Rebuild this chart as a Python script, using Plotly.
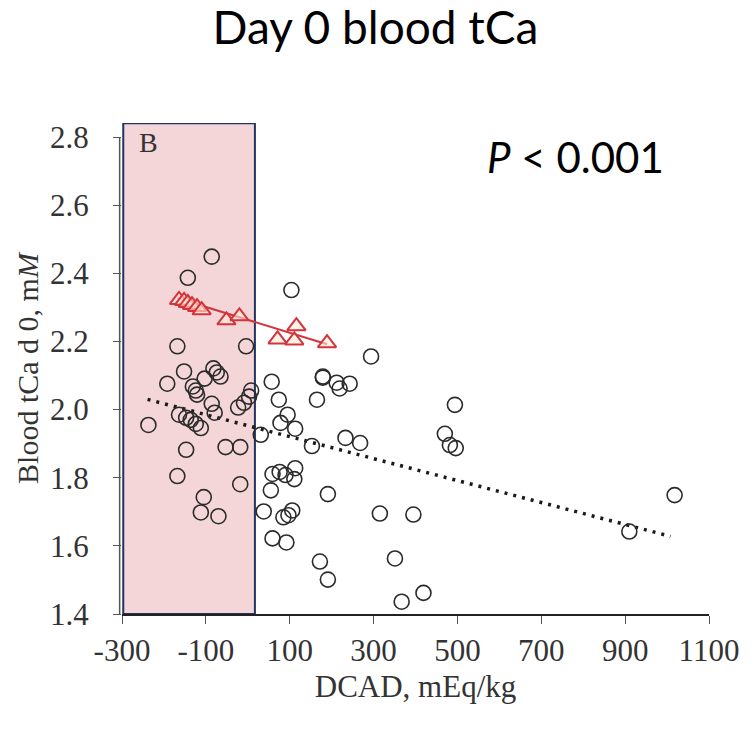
import plotly.graph_objects as go

# Circles: all cows (DCAD mEq/kg, blood tCa d0 mM)
circ_x = [-86, -143, 104, -168, -4, -152, -192, -82, -74, -65, -103, -131, -124, -121, -86,
          -237, -164, -147, -136, -124, -112, -79, -23, -9, 3, 8, -147, -53, -18, -168,
          -18, -105, -112, -70, 57, 74, 31, 78, 95, 113, 59, 76, 90, 113, 111,
          55, 38, 85, 97, 106, 59, 92, 179, 179, 212, 219, 243, 165, 294, 494,
          153, 233, 268, 470, 482, 496, 191, 172, 191, 315, 395, 351, 419, 367,
          1018, 910]
circ_y = [2.449, 2.387, 2.351, 2.186, 2.186, 2.112, 2.076, 2.121, 2.109, 2.097, 2.091, 2.068, 2.056, 2.044, 2.017,
          1.955, 1.985, 1.976, 1.970, 1.958, 1.946, 1.991, 2.006, 2.020, 2.038, 2.056, 1.882, 1.890, 1.890, 1.805,
          1.781, 1.743, 1.698, 1.687, 2.082, 2.029, 1.926, 1.961, 1.985, 1.944, 1.811, 1.817, 1.808, 1.828, 1.796,
          1.763, 1.701, 1.684, 1.690, 1.704, 1.622, 1.610, 2.094, 2.097, 2.079, 2.062, 2.076, 2.029, 2.156, 2.014,
          1.893, 1.917, 1.902, 1.929, 1.896, 1.887, 1.752, 1.554, 1.501, 1.695, 1.692, 1.563, 1.462, 1.436,
          1.749, 1.642]

# Triangles: subgroup
tri_x = [-164, -152, -143, -133, -121, -110, -51, -20, 71, 116, 111, 189]
tri_y = [2.322, 2.319, 2.313, 2.307, 2.301, 2.292, 2.262, 2.274, 2.206, 2.245, 2.203, 2.195]

# Regression lines (endpoints)
red_fit_x = [-168, 189]
red_fit_y = [2.327, 2.192]
all_fit_x = [-239, 1008]
all_fit_y = [2.030, 1.628]

# Shaded region (negative DCAD)
shade_x = [-297, 17]
shade_y = [1.4, 2.841]

x_ticks = [-300, -100, 100, 300, 500, 700, 900, 1100]
x_ticklabels = ["-300", "-100", "100", "300", "500", "700", "900", "1100"]
y_ticks = [1.4, 1.6, 1.8, 2.0, 2.2, 2.4, 2.6, 2.8]
y_ticklabels = ["1.4", "1.6", "1.8", "2.0", "2.2", "2.4", "2.6", "2.8"]

serif = "Liberation Serif, Times New Roman, serif"
sans = "Lato, Open Sans, sans-serif"

fig = go.Figure()

fig.add_trace(go.Scatter(
    x=all_fit_x, y=all_fit_y, mode="lines",
    line=dict(color="#1a1a1a", width=3.5, dash="3px,6px"),
    hoverinfo="skip", showlegend=False))

fig.add_trace(go.Scatter(
    x=circ_x, y=circ_y, mode="markers",
    marker=dict(symbol="circle-open", size=15, color="#2b2b2b", line=dict(width=1.6)),
    showlegend=False))

fig.add_trace(go.Scatter(
    x=red_fit_x, y=red_fit_y, mode="lines",
    line=dict(color="#d2343c", width=2),
    hoverinfo="skip", showlegend=False))

fig.add_trace(go.Scatter(
    x=tri_x, y=tri_y, mode="markers",
    marker=dict(symbol="triangle-up", size=16, color="rgba(255,232,215,0.6)",
                line=dict(width=2, color="#d2343c")),
    showlegend=False))

fig.add_shape(type="rect", xref="x", yref="y",
              x0=shade_x[0], x1=shade_x[1], y0=shade_y[0], y1=shade_y[1],
              fillcolor="#f5d6d8", line=dict(color="#1f3460", width=2), layer="below")

# y-axis line (bracket from 1.4 to 2.8)
fig.add_shape(type="line", xref="paper", yref="y", x0=-0.004, x1=-0.004,
              y0=y_ticks[0], y1=y_ticks[-1], line=dict(color="#555555", width=1.5))

fig.update_layout(
    width=751, height=732,
    margin=dict(l=122, r=33, t=123, b=118),
    paper_bgcolor="white", plot_bgcolor="white",
    title=dict(text="Day 0 blood tCa", x=0.5, xref="container", y=0.962, yref="container",
               xanchor="center", yanchor="middle",
               font=dict(family=sans, size=46, color="black")),
    xaxis=dict(range=[-300, 1100], tickvals=x_ticks, ticktext=x_ticklabels,
               showgrid=False, zeroline=False, showline=True, linecolor="#222222", linewidth=1.5,
               ticks="outside", ticklen=8, tickwidth=1.2, tickcolor="#555555",
               ticklabelstandoff=0,
               tickfont=dict(family=serif, size=31, color="#333333"),
               title=dict(text="DCAD, mEq/kg", font=dict(family=serif, size=31, color="#333333"), standoff=8)),
    yaxis=dict(range=[1.4, 2.8414], tickvals=y_ticks, ticktext=y_ticklabels,
               showgrid=False, zeroline=False, showline=False,
               ticks="outside", ticklen=8, tickwidth=1.2, tickcolor="#555555",
               ticklabelstandoff=18,
               tickfont=dict(family=serif, size=31, color="#333333"),
               title=dict(text="Blood tCa d 0, m<i>M</i>", font=dict(family=serif, size=30, color="#333333"), standoff=2)),
    annotations=[
        dict(text="<i>P</i> < 0.001", xref="paper", yref="paper", x=0.773, y=0.93,
             xanchor="center", yanchor="middle", showarrow=False,
             font=dict(family=sans, size=42, color="black")),
        dict(text="B", xref="paper", yref="paper", x=0.025, y=0.995,
             xanchor="left", yanchor="top", showarrow=False,
             font=dict(family=serif, size=28, color="#333333")),
    ],
)

fig.write_html("out.html")
